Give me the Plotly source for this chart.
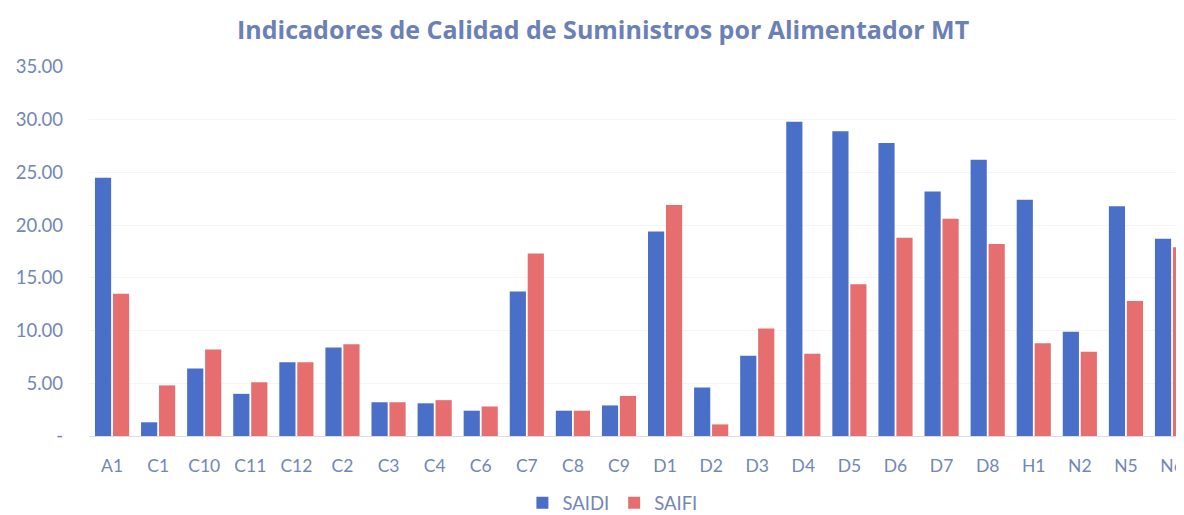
import plotly.graph_objects as go

# Alimentadores MT
feeders = ['A1', 'C1', 'C10', 'C11', 'C12', 'C2', 'C3', 'C4', 'C6', 'C7', 'C8', 'C9',
           'D1', 'D2', 'D3', 'D4', 'D5', 'D6', 'D7', 'D8', 'H1', 'N2', 'N5', 'N6']

saidi = [24.5, 1.3, 6.4, 4.0, 7.0, 8.4, 3.2, 3.1, 2.4, 13.7, 2.4, 2.9,
         19.4, 4.6, 7.6, 29.8, 28.9, 27.8, 23.2, 26.2, 22.4, 9.9, 21.8, 18.7]
saifi = [13.5, 4.8, 8.2, 5.1, 7.0, 8.7, 3.2, 3.4, 2.8, 17.3, 2.4, 3.8,
         21.9, 1.1, 10.2, 7.8, 14.4, 18.8, 20.6, 18.2, 8.8, 8.0, 12.8, 17.9]

y_ticks = [0, 5, 10, 15, 20, 25, 30, 35]
y_ticktext = ['-', '5.00', '10.00', '15.00', '20.00', '25.00', '30.00', '35.00']

blue = '#4a6fc9'
red = '#e66e6e'
text_col = '#7386b4'

fig = go.Figure()
fig.add_bar(x=feeders, y=saidi, name='SAIDI', marker=dict(color=blue, line_width=0))
fig.add_bar(x=feeders, y=saifi, name='SAIFI', marker=dict(color=red, line_width=0))

# the page keeps an 8px body margin, so the figure is sized to end at the window edge
fig.update_layout(
    title=dict(text='<b>Indicadores de Calidad de Suministros por Alimentador MT</b>',
               x=0.506, xanchor='center', y=0.957, yanchor='middle',
               font=dict(family='Open Sans', size=25, color='#6a80b6')),
    barmode='group', bargap=0.22, bargroupgap=0.1,
    width=1176, height=507,
    margin=dict(l=81, r=0, t=59, b=79, autoexpand=False),
    plot_bgcolor='white', paper_bgcolor='white',
    font=dict(family='Lato', color=text_col),
    legend=dict(orientation='h', x=0.478, xanchor='center', y=-0.182, yanchor='middle',
                font=dict(size=18.5, color=text_col), itemwidth=30),
    xaxis=dict(range=[-0.5, 23.26], showgrid=False, showline=False, automargin=False,
               tickfont=dict(size=17.5, color=text_col), ticklabelstandoff=17),
    yaxis=dict(range=[0, 35], tickvals=y_ticks, ticktext=y_ticktext, automargin=False,
               showgrid=True, gridcolor='#f5f5f5', zeroline=True,
               zerolinecolor='#dcdcdc', zerolinewidth=1,
               tickfont=dict(size=18.5, color=text_col), ticklabelstandoff=25),
)

fig.write_html("out.html")
